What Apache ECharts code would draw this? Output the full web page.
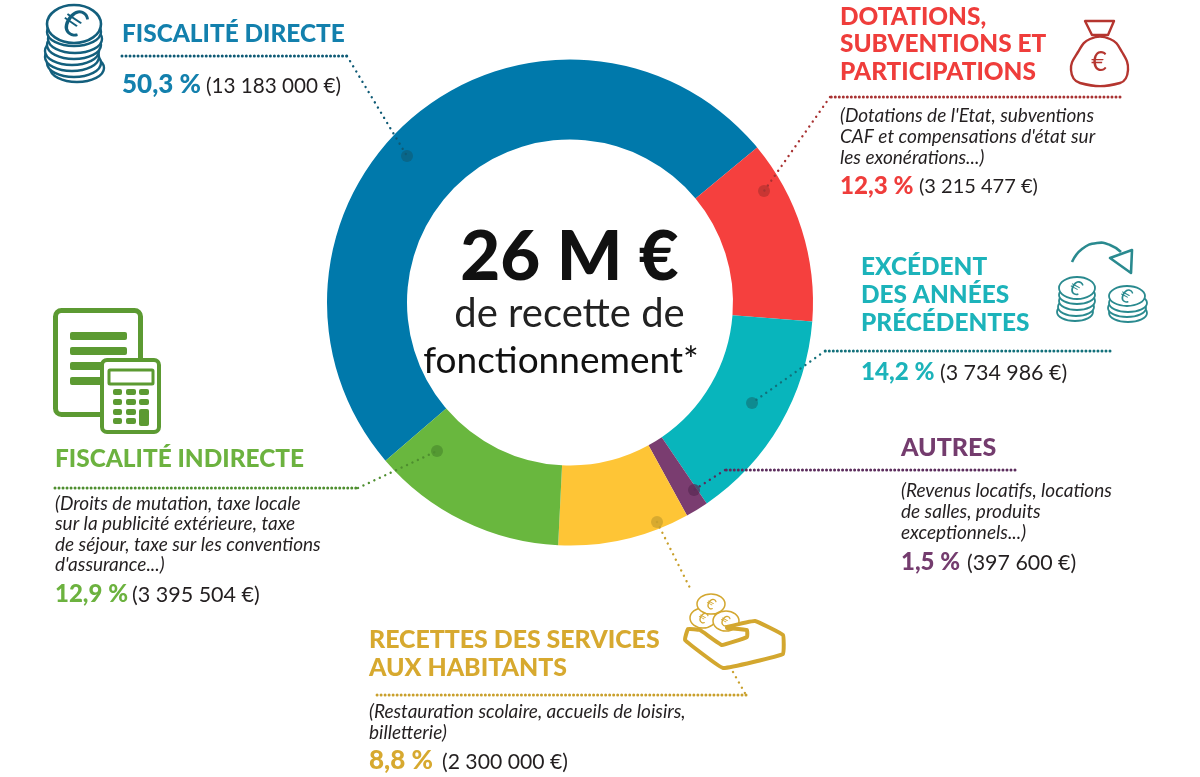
<!DOCTYPE html>
<html><head><meta charset="utf-8">
<style>html,body{margin:0;padding:0;background:#fff}#c{width:1200px;height:777px}</style>
<script src="https://cdn.jsdelivr.net/npm/echarts@6/dist/echarts.min.js"></script>
</head><body><div id="c"></div>
<script>
const categories = ['Fiscalité directe','Dotations, subventions et participations','Excédent des années précédentes','Autres','Recettes des services aux habitants','Fiscalité indirecte'];
const amounts = [13183000,3215477,3734986,397600,2300000,3395504];
const percentLabels = ['50,3 %','12,3 %','14,2 %','1,5 %','8,8 %','12,9 %'];
const amountLabels = ['(13 183 000 €)','(3 215 477 €)','(3 734 986 €)','(397 600 €)','(2 300 000 €)','(3 395 504 €)'];
const sliceColors = ['#0079ab','#f5403e','#08b5bc','#7a3d70','#fec536','#69b73e'];
const titleColors = ['#1380ad','#ef3d3b','#1cb3ba','#743c6e','#d7a92f','#6cb23f'];
const leaderColors = ['#0e5a75','#a83232','#12707a','#5b2c5c','#c9a02c','#4e8e2f'];
const F = 'Lato, sans-serif', INK = '#231f20';
const g = [];
function txt(x,y,text,fill,font,align){g.push({type:'text',z:5,style:{x,y:y+1,text,fill,font,textAlign:align||'left',textVerticalAlign:'middle'}});}
function title(i,x,ys,lines,size){lines.forEach((l,k)=>txt(x,ys[k],l,titleColors[i],'900 '+(size||24.4)+'px '+F));}
function desc(x,ys,lines){lines.forEach((l,k)=>txt(x,ys[k]+0.5,l,INK,'italic 400 19px '+F));}
function pct(i,x,y,ax,size,asize){txt(x,y,percentLabels[i],titleColors[i],'900 '+size+'px '+F);txt(ax,y+1,amountLabels[i],INK,'400 '+asize+'px '+F);}
function dots(pts,c,w,gap){g.push({type:'polyline',z:4,shape:{points:pts},style:{stroke:c,lineWidth:w,lineDash:[0.01,gap],lineCap:'round',fill:null}});}
function anchor(x,y,c){g.push({type:'circle',z:3,shape:{cx:x,cy:y,r:6},style:{fill:c,opacity:.72}});}
function ell(cx,cy,rx,ry,c,w){g.push({type:'ellipse',z:4,shape:{cx,cy,rx,ry},style:{fill:'#fff',stroke:c,lineWidth:w}});}
function rect(x,y,w,h,fill,stroke,lw,r){g.push({type:'rect',z:4,shape:{x,y,width:w,height:h,r:r||0},style:{fill:fill,stroke:stroke||null,lineWidth:lw||0}});}
function poly(pts,c,w,smooth,fill){g.push({type:'polygon',z:4,shape:{points:pts,smooth:smooth||0},style:{stroke:c,lineWidth:w,fill:fill||null,lineJoin:'round'}});}

// centre
txt(569.5,257,'26 M €','#111','900 69px '+F,'center');
txt(569.5,313,'de recette de','#222','400 40px '+F,'center');
txt(561,360,'fonctionnement*','#111','400 37px '+F,'center');

// 0 fiscalité directe
title(0,122,[33],['FISCALITÉ DIRECTE']);
dots([[122,56],[347,56]],leaderColors[0],3,4);
dots([[347,56],[407,156]],leaderColors[0],2.4,6);
anchor(407,156,'#0d5f7d');
pct(0,122,84,206,26,20.7);
// 1 dotations
title(1,840,[16,43,71],['DOTATIONS,','SUBVENTIONS ET','PARTICIPATIONS']);
dots([[1120,97],[830,97]],leaderColors[1],3,4);
dots([[830,97],[764,191]],leaderColors[1],2.4,6);
anchor(764,191,'#b7322f');
desc(840,[114,135,156],["(Dotations de l'Etat, subventions","CAF et compensations d'état sur","les exonérations...)"]);
pct(1,840,185,919,24.2,20);
// 2 excédent
title(2,861,[266,294,322],['EXCÉDENT','DES ANNÉES','PRÉCÉDENTES']);
dots([[1110,351],[825,351]],leaderColors[2],3,4);
dots([[825,351],[752,403]],leaderColors[2],2.4,6);
anchor(752,403,'#117a80');
pct(2,861,371,940,24.2,21.4);
// 3 autres
title(3,901,[447],['AUTRES'],25);
dots([[1015,470],[725,470]],leaderColors[3],3,4);
dots([[725,470],[694,490]],leaderColors[3],2.4,6);
anchor(694,490,'#5a2a55');
desc(901,[489,510,531],['(Revenus locatifs, locations','de salles, produits','exceptionnels...)']);
pct(3,901,561,967,24,21.4);
// 4 recettes
title(4,369,[639,667],['RECETTES DES SERVICES','AUX HABITANTS'],24.9);
dots([[746,695],[375,695]],leaderColors[4],3,4);
dots([[657,522],[690,588]],leaderColors[4],2.4,6);
dots([[733,672],[746,695]],leaderColors[4],2.4,6);
anchor(657,522,'#c9a02c');
desc(369,[710,731],['(Restauration scolaire, accueils de loisirs,','billetterie)']);
pct(4,369,760,442,26,21.2);
// 5 indirecte
title(5,55,[458],['FISCALITÉ INDIRECTE']);
dots([[55,488],[358,488]],leaderColors[5],3,4);
dots([[358,488],[437,451]],leaderColors[5],2.4,6);
anchor(437,451,'#4c8d2e');
desc(55,[502,522,543,563],['(Droits de mutation, taxe locale','sur la publicité extérieure, taxe','de séjour, taxe sur les conventions',"d'assurance...)"]);
pct(5,55,593,132,24,21.5);

// icon: coin stack
const cBlue='#135f7d';
[[77,68],[74,63],[72,57],[72,51],[74,45],[75,39],[74,32]].forEach(p=>ell(p[0],p[1],27,14,cBlue,2.4));
ell(74,24,27,19,cBlue,2.6);
g.push({type:'text',z:5,rotation:-0.6,x:74,y:23,style:{x:0,y:0,text:'€',fill:cBlue,font:'400 38px '+F,textAlign:'center',textVerticalAlign:'middle'}});
// icon: money bag
const cRed='#b5352f';
poly([[1085,21],[1114,21],[1108,35],[1092,35]],cRed,2.4);
poly([[1090,39],[1110,39],[1122,52],[1128,70],[1120,83],[1080,83],[1071,70],[1078,52]],cRed,2.4,0.45);
txt(1099,61,'€',cRed,'400 27px '+F,'center');
// icon: coins + arrow
const cTeal='#2a8a8f';
[[1075,312],[1076,307],[1077,301],[1077,295]].forEach(p=>ell(p[0],p[1],18,9,cTeal,1.8));
ell(1077,288,18,11,cTeal,1.8);
[[1128,313],[1127,308],[1128,303]].forEach(p=>ell(p[0],p[1],19,9,cTeal,1.8));
ell(1127,296,18,10,cTeal,1.8);
g.push({type:'text',z:5,rotation:-0.5,x:1076,y:288,style:{x:0,y:0,text:'€',fill:cTeal,font:'400 20px '+F,textAlign:'center',textVerticalAlign:'middle'}});
g.push({type:'text',z:5,rotation:-0.5,x:1126,y:296,style:{x:0,y:0,text:'€',fill:cTeal,font:'400 19px '+F,textAlign:'center',textVerticalAlign:'middle'}});
g.push({type:'polyline',z:4,shape:{points:[[1072,262],[1082,249],[1097,243],[1110,245],[1121,252]],smooth:0.5},style:{stroke:cTeal,lineWidth:2.6,fill:null}});
poly([[1132,250],[1131,273],[1110,258]],cTeal,2.6,0,'#fff');
// icon: document + calculator
const cGreen='#5c9a32';
rect(55.5,310.5,85,104,'#fff',cGreen,5,6);
[332,347,362,377].forEach(y=>rect(70,y,57,8,cGreen,null,0,2));
rect(102,360,57,72,'#fff',cGreen,4,5);
rect(109,370,44,14,'#fff',cGreen,3,1);
[389,399,409,418].forEach((y,r)=>[113,126,139].forEach((x,k)=>{ if(!(k===2&&r>1)) rect(x,y,k===0?9:10,6,cGreen,null,0,2); }));
rect(139,409,10,17,cGreen,null,0,2);
// icon: hand and coins
const cGold='#d3a72f';
ell(703,618,13,10,cGold,1.5);ell(726,621,13,10,cGold,1.5);ell(711,604,14,10,cGold,1.5);
g.push({type:'text',z:5,rotation:-0.5,x:711,y:604,style:{x:0,y:0,text:'€',fill:cGold,font:'400 15px '+F,textAlign:'center',textVerticalAlign:'middle'}});
g.push({type:'text',z:5,rotation:-0.5,x:703,y:618,style:{x:0,y:0,text:'€',fill:cGold,font:'400 15px '+F,textAlign:'center',textVerticalAlign:'middle'}});
g.push({type:'text',z:5,rotation:-0.5,x:725,y:621,style:{x:0,y:0,text:'€',fill:cGold,font:'400 15px '+F,textAlign:'center',textVerticalAlign:'middle'}});
g.push({type:'polygon',z:5,shape:{points:[[727,627],[755,621],[783,635],[783,654],[723,668],[685,640],[688,629],[700,630],[722,645],[747,637],[747,630],[727,628]],smooth:0.08},style:{stroke:cGold,lineWidth:4,fill:'#fff',lineJoin:'round'}});

const chart = echarts.init(document.getElementById('c'),null,{renderer:'canvas'});
chart.setOption({
  animation:false,
  backgroundColor:'#fff',
  series:[{type:'pie',center:[570,302.5],radius:[163,243],startAngle:220.6,silent:true,label:{show:false},labelLine:{show:false},
    data:categories.map((name,i)=>({name,value:amounts[i],itemStyle:{color:sliceColors[i]}}))}],
  graphic:{elements:g}
});
</script></body></html>
